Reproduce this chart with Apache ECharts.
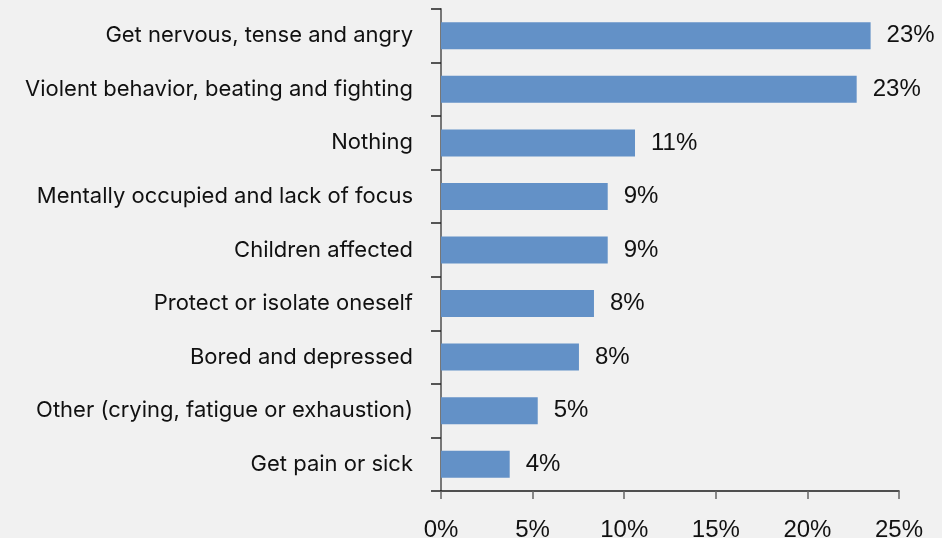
<!DOCTYPE html>
<html>
<head>
<meta charset="utf-8">
<script src="https://cdn.jsdelivr.net/npm/echarts@6/dist/echarts.min.js"></script>
<style>
html,body{margin:0;padding:0;background:#f1f1f1;}
#chart{width:942px;height:538px;}
</style>
</head>
<body>
<div id="chart"></div>
<script>
var categories = [
  "Get nervous, tense and angry",
  "Violent behavior, beating and fighting",
  "Nothing",
  "Mentally occupied and lack of focus",
  "Children affected",
  "Protect or isolate oneself",
  "Bored and depressed",
  "Other (crying, fatigue or exhaustion)",
  "Get pain or sick"
];
var values = [23.45, 22.69, 10.59, 9.10, 9.10, 8.35, 7.53, 5.28, 3.75];
var xTicks = [0, 5, 10, 15, 20, 25];

var chart = echarts.init(document.getElementById('chart'));
chart.setOption({
  backgroundColor: '#f1f1f1',
  animation: false,
  grid: { left: 441, right: 43, top: 9, bottom: 47, containLabel: false, outerBoundsMode: 'none' },
  xAxis: {
    type: 'value',
    min: xTicks[0],
    max: xTicks[xTicks.length - 1],
    interval: 5,
    axisLine: { show: true, lineStyle: { color: '#1a1a1a', width: 1.5 } },
    axisTick: { show: true, length: 8, lineStyle: { color: '#666', width: 1.5 } },
    splitLine: { show: false },
    axisLabel: {
      formatter: '{value}%',
      color: '#111',
      fontSize: 24,
      fontFamily: 'Liberation Sans, Arial, sans-serif',
      margin: 27
    }
  },
  yAxis: {
    type: 'category',
    data: categories,
    inverse: true,
    axisLine: { show: true, lineStyle: { color: '#777', width: 2 } },
    axisTick: { show: true, length: 10, lineStyle: { color: '#222', width: 1.5 } },
    axisLabel: {
      color: '#111',
      fontSize: 22,
      fontFamily: 'Inter, Liberation Sans, Arial, sans-serif',
      margin: 28
    }
  },
  series: [{
    type: 'bar',
    data: values,
    barWidth: 27,
    itemStyle: { color: '#6391c7' },
    label: {
      show: true,
      position: 'right',
      distance: 16,
      color: '#111',
      fontSize: 24,
      fontFamily: 'Liberation Sans, Arial, sans-serif',
      formatter: function (p) { return Math.round(p.value) + '%'; }
    }
  }]
});
</script>
</body>
</html>
